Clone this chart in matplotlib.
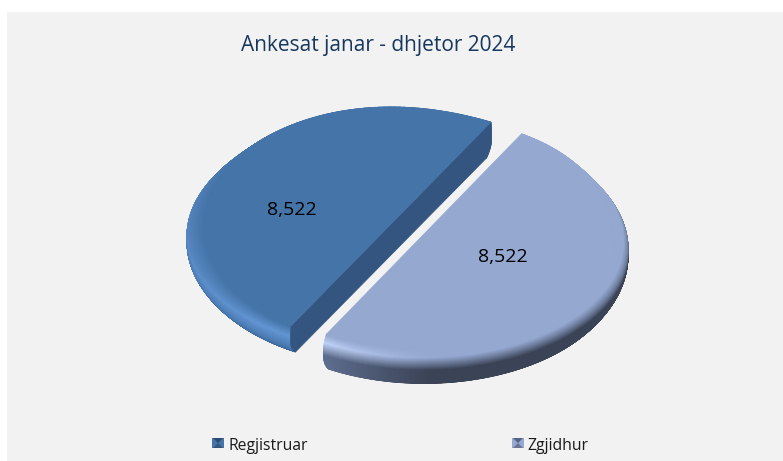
import numpy as np
import matplotlib
matplotlib.use("Agg")
import matplotlib.pyplot as plt
from matplotlib.colors import to_rgb
from matplotlib.patches import Polygon, Rectangle

# Data
categories = ["Regjistruar", "Zgjidhur"]
values = [8522, 8522]
title = "Ankesat janar - dhjetor 2024"

START_ANGLE = 60.5
A, B = 204, 116      # outer ellipse
DEPTH = 33
CENTRES = [(391, 222), (424, 239)]


def mix(c1, c2, f):
    return np.array([(1 - f) * a + f * b for a, b in zip(to_rgb(c1), to_rgb(c2))])


def layer(s, t, mid, flat_a, grow_a, flat_b, top_dy):
    # ellipse of the rounded rim, s=0 flat top, s=1 bottom edge
    u = (t - mid) / 90
    a0 = flat_a + grow_a * u ** 4
    k = np.sin(min(s / 0.4, 1) * np.pi / 2)
    taper = max((s - 0.55) / 0.45, 0) ** 2
    a = (a0 + (A - a0) * k) * (1 - 0.05 * taper)
    b = (flat_b + (B - flat_b) * k) * (1 - 0.04 * taper)
    dy = top_dy + (DEPTH - top_dy) * s
    return a, b, dy


def left_colour(s, t):
    side = np.clip((t - 100) / 130, 0, 1)
    peak = mix("#4574a8", "#6396d4", side)
    if s < 0.35:
        return mix("#4574a8", peak, s / 0.35)
    return mix(peak, "#3a6699", (s - 0.35) / 0.65)


def right_colour(s, t):
    t = t % 360
    lit = np.clip((272 - t) / 32, 0, 1) if t > 180 else 0
    peak = mix("#94a8d0", "#c0d3f8", lit)
    dark = mix("#3b4356", "#5f6f90", lit)
    if s < 0.2:
        return mix("#94a8d0", peak, s / 0.2)
    return mix(peak, dark, min((s - 0.2) / 0.32, 1))


def draw_slice(ax, centre, t0, t1, colour_fn, shape, cut=None):
    cx, cy = centre
    mid = (t0 + t1) / 2
    angles = np.linspace(t0, t1, 121)
    steps = np.linspace(1, 0, 61)
    X = np.zeros((len(steps), len(angles)))
    Y = np.zeros_like(X)
    C = np.zeros(X.shape + (3,))
    for i, s in enumerate(steps):
        for j, t in enumerate(angles):
            a, b, d = layer(s, t, mid, *shape)
            X[i, j] = cx + a * np.cos(np.radians(t))
            Y[i, j] = cy + d - b * np.sin(np.radians(t))
            C[i, j] = colour_fn(s, t)
    ax.pcolormesh(X, Y, C, shading="gouraud")

    # cut face, stacked down from the flat top
    if cut is not None:
        top, bottom = [], []
        for s in np.linspace(0, 1, 21):
            a, b, d = layer(s, t0, mid, *shape)
            top.append((cx + a * np.cos(np.radians(t0)), cy + d - b * np.sin(np.radians(t0))))
            a, b, d = layer(s, t1, mid, *shape)
            bottom.append((cx + a * np.cos(np.radians(t1)), cy + d - b * np.sin(np.radians(t1))))
        ax.add_patch(Polygon(top + bottom[::-1], closed=True, fc=cut, ec=cut, lw=0.5))

    # flat top face
    ax.add_patch(Polygon(np.column_stack([X[-1], Y[-1]]), closed=True,
                         fc=colour_fn(0, t0), ec=colour_fn(0, t0), lw=0.5))


fig = plt.figure(figsize=(7.83, 4.61), dpi=100)
ax = fig.add_axes([0, 0, 1, 1])
ax.axis("off")
ax.add_patch(Rectangle((7, 12), 776, 449, fc="#f2f2f2", ec="none"))

# Slices from the values
total = sum(values)
sweeps = [v / total * 360 for v in values]
t0 = START_ANGLE
t1 = t0 + sweeps[0]
draw_slice(ax, CENTRES[0], t0, t1, left_colour, (186, 17, 117, 2), cut="#33557f")
draw_slice(ax, CENTRES[1], t1, t1 + sweeps[1], right_colour, (188, 10, 115, -5))

ax.set_xlim(0, 783)
ax.set_ylim(461, 0)

# Labels
font = "Open Sans"
ax.text(378.5, 46, title, color="#17375e", fontsize=15, family=font, ha="center", va="center")
for (x, y), v in zip([(292, 210), (503, 257)], values):
    ax.text(x, y, f"{v:,}", color="black", fontsize=14, family=font, ha="center", va="center")

# Legend
for x, tx, name, col, mid in zip([212, 512], [229, 527], categories, ["#4574a8", "#94a8d0"], ["#2b4a70", "#566080"]):
    ax.add_patch(Rectangle((x, 438), 12, 10, fc=col, ec="none"))
    ax.add_patch(Polygon([(x + 1, 438), (x + 11, 438), (x + 6, 443)], fc=mid, ec="none"))
    ax.add_patch(Polygon([(x + 1, 448), (x + 11, 448), (x + 6, 443)], fc=mid, ec="none", alpha=0.7))
    ax.text(tx, 446, name, color="#1a1a1a", fontsize=11.3, family=font, ha="left", va="center")

fig.savefig("out.png", dpi=100)
